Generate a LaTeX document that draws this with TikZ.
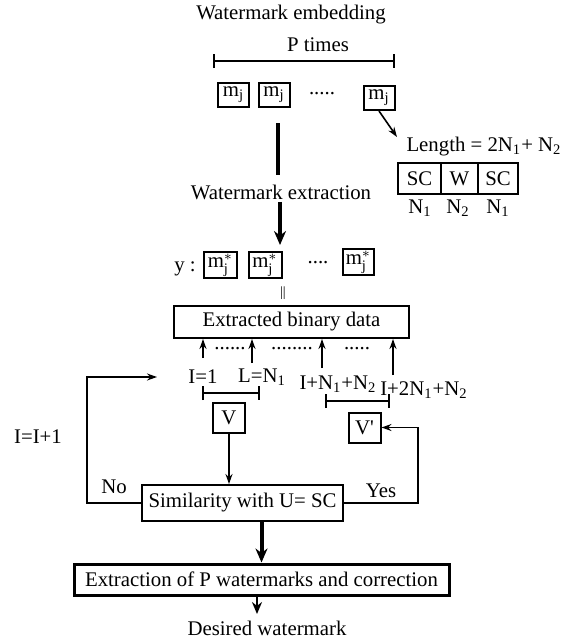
\documentclass[tikz,border=0pt]{standalone}
\usepackage{fontspec}
\setmainfont{Liberation Serif}
\usetikzlibrary{arrows.meta}
\tikzset{
  every node/.style={font=\fontsize{10.4}{12}\selectfont, inner sep=1pt},
  mbox/.style={draw, line width=1pt, minimum width=15.5pt, minimum height=12pt},
  segbox/.style={draw, line width=1pt, minimum height=15.5pt},
  vbox/.style={draw, line width=1pt, minimum width=16pt, minimum height=15pt},
  range bar/.style={line width=1pt, {Bar[width=7pt]}-{Bar[width=7pt]}},
  thin arrow/.style={line width=0.8pt, -{Stealth[length=5pt,width=3.5pt]}},
  big arrow/.style={line width=2pt, -{Stealth[length=7pt,width=6pt]}},
  mid arrow/.style={line width=1.3pt, -{Stealth[length=6pt,width=5pt]}}
}
\begin{document}
\begin{tikzpicture}[x=0.5pt,y=-0.5pt]
\useasboundingbox (0,0) rectangle (579,643);
% embedding
\node (embed) at (291,15) {Watermark embedding};
\node (ptimes) at (318,45) {P times};
\coordinate (pl) at (213,61);
\coordinate (pr) at (395,61);
\draw[range bar] (pl) -- (pr);
\node[mbox] (m1) at (233.5,95) {m\textsubscript{j}};
\node[mbox] (m2) at (274,95) {m\textsubscript{j}};
\node (mdots) at (322,94) {.....};
\node[mbox] (m3) at (379,98) {m\textsubscript{j}};
\coordinate (lentip) at (397,137);
\draw[thin arrow] (m3.south) -- (lentip);
\node (len) at (484,147) {Length = 2N\textsubscript{1}+ N\textsubscript{2}};
\node[segbox, minimum width=21.5pt] (sc1) at (419.5,178.5) {SC};
\node[segbox, minimum width=18.5pt] (w) at (459.5,178.5) {W};
\node[segbox, minimum width=20pt] (sc2) at (498,178.5) {SC};
\node (n1a) at (420,208) {N\textsubscript{1}};
\node (n2) at (458,208) {N\textsubscript{2}};
\node (n1b) at (498,208) {N\textsubscript{1}};
% extraction
\coordinate (t1) at (278,123);
\coordinate (t2) at (278,175);
\draw[line width=2.2pt] (t1) -- (t2);
\node (extr) at (281,192) {Watermark extraction};
\coordinate (ytip) at (280,245);
\draw[big arrow] (extr.south -| ytip) -- (ytip);
\node (ylab) at (185,269) {y :};
\node[mbox, minimum width=16.5pt] (s1) at (220.5,265) {m$_{\mathrm{j}}^{*}$};
\node[mbox, minimum width=16.5pt] (s2) at (265,265) {m$_{\mathrm{j}}^{*}$};
\node (sdots) at (318,263) {....};
\node[mbox, minimum width=15.5pt] (s3) at (358.5,262) {m$_{\mathrm{j}}^{*}$};
\node (eq) at (283,293) {\scriptsize ||};
\node[draw, line width=1pt, minimum width=117.5pt, minimum height=16pt] (data) at (291.5,322) {Extracted binary data};
% positions
\coordinate (a1) at (203,358);
\coordinate (a2) at (252,363);
\coordinate (a3) at (322,368);
\coordinate (a4) at (393,375);
\draw[thin arrow] (a1) -- (a1 |- data.south);
\draw[thin arrow] (a2) -- (a2 |- data.south);
\draw[thin arrow] (a3) -- (a3 |- data.south);
\draw[thin arrow] (a4) -- (a4 |- data.south);
\node (d1) at (230,349) {......};
\node (d2) at (292,349) {........};
\node (d3) at (357,349) {.....};
\node (i1) at (203,377) {I=1};
\node (ln1) at (262,377) {L=N\textsubscript{1}};
\node (i2) at (338,384) {I+N\textsubscript{1}+N\textsubscript{2}};
\node (i3) at (424,390) {I+2N\textsubscript{1}+N\textsubscript{2}};
\coordinate (b1l) at (202,393);
\coordinate (b1r) at (260,393);
\coordinate (b2l) at (325,401);
\coordinate (b2r) at (390,401);
\draw[range bar] (b1l) -- (b1r);
\draw[range bar] (b2l) -- (b2r);
\node[vbox] (v) at (229,418) {V};
\node[vbox] (vp) at (364.5,427.5) {V\textquotesingle};
% similarity loop
\node[draw, line width=1pt, minimum width=100.5pt, minimum height=18pt] (sim) at (242.5,503) {Similarity with U= SC};
\draw[thin arrow] (v) -- (v |- sim.north);
\draw[thin arrow] (sim.east) -- ++(74,0) |- (vp.east);
\node (yes) at (381,491) {Yes};
\coordinate (loopend) at (157,377);
\draw[thin arrow] (sim.west) -- ++(-54,0) |- (loopend);
\node (no) at (114,487) {No};
\node (inc) at (38,437) {I=I+1};
% result
\node[draw, line width=1.5pt, minimum width=187.5pt, minimum height=15.5pt] (ext) at (261.5,579.5) {Extraction of P watermarks and correction};
\draw[big arrow] (sim.south -| ext.north) -- (ext.north);
\node (desired) at (267,628) {Desired watermark};
\coordinate (dtip) at (257,614);
\draw[mid arrow] (ext.south -| dtip) -- (dtip);
\end{tikzpicture}
\end{document}
